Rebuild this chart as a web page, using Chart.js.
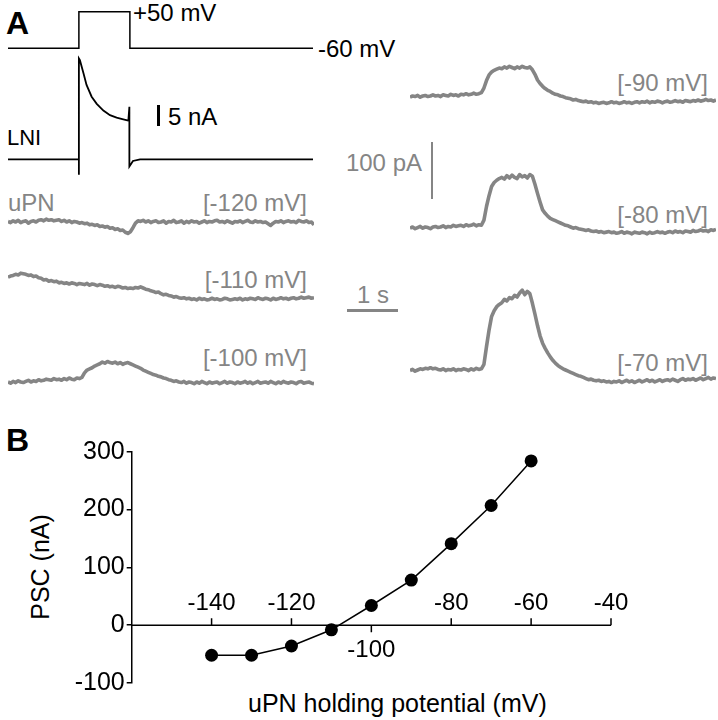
<!DOCTYPE html>
<html>
<head>
<meta charset="utf-8">
<script src="https://cdn.jsdelivr.net/npm/chart.js@4.4.1/dist/chart.umd.min.js"></script>
<style>
  html, body { margin: 0; padding: 0; background: #fff; }
  #fig { position: relative; width: 718px; height: 720px; overflow: hidden; font-family: Arial, "Liberation Sans", Helvetica, sans-serif; }
  #fig canvas { position: absolute; }
  .lbl { position: absolute; font-size: 24px; line-height: 24px; white-space: nowrap; color: #000; }
  .gray { color: #858585; }
  .panel { font-weight: bold; font-size: 32px; line-height: 32px; }
  .bar { position: absolute; }
</style>
</head>
<body>
<div id="fig">
  <div class="lbl panel" style="left:6px;top:7px">A</div>
  <div class="lbl" style="left:133px;top:1px">+50 mV</div>
  <div class="lbl" style="left:318px;top:37px">-60 mV</div>
  <div class="lbl" style="left:168px;top:105px">5 nA</div>
  <div class="lbl" style="left:7px;top:127px;font-size:22px;line-height:22px">LNI</div>
  <div class="lbl gray" style="left:8px;top:191px">uPN</div>
  <div class="lbl gray" style="right:411px;top:191px">[-120 mV]</div>
  <div class="lbl gray" style="right:411px;top:268px">[-110 mV]</div>
  <div class="lbl gray" style="right:411px;top:346px">[-100 mV]</div>
  <div class="lbl gray" style="right:10px;top:71px">[-90 mV]</div>
  <div class="lbl gray" style="right:10px;top:203px">[-80 mV]</div>
  <div class="lbl gray" style="right:10px;top:351px">[-70 mV]</div>
  <div class="lbl gray" style="right:296px;top:151px">100 pA</div>
  <div class="lbl gray" style="left:357px;top:283px">1 s</div>
  <div id="barNa" class="bar" style="background:#000"></div>
  <div id="barPa" class="bar" style="background:#858585"></div>
  <div id="barSec" class="bar" style="background:#858585"></div>

  <div class="lbl panel" style="left:6px;top:424px">B</div>
  <div class="lbl" style="left:40px;top:567px;font-size:25px;line-height:25px;transform:translate(-50%,-50%) rotate(-90deg)">PSC (nA)</div>
  <div class="lbl" style="left:248px;top:691px;font-size:25px;line-height:25px">uPN holding potential (mV)</div>
</div>
<script>
const GRAY = "#858585";
const FONT = 'Arial, "Liberation Sans", Helvetica, sans-serif';

// voltage command to the LNI and its current
const stimTime = [0, 1.39, 1.39, 2.39, 2.39, 5.98];
const stimMv = [-60, -60, 50, 50, -60, -60];
const lniTime = [0, 1.39, 1.39, 1.39, 1.41, 1.48, 1.54, 1.64, 1.74, 1.87, 2.0, 2.13, 2.26, 2.36, 2.38, 2.38, 2.45, 2.59, 5.98];
const lniNa = [0, 0, -3.7, 24.0, 23.6, 20.5, 17.7, 14.9, 13.2, 11.6, 10.5, 9.9, 9.5, 9.2, 12.5, -1.7, -0.4, 0, 0];

// uPN sweeps, pA relative to holding current, one sample every 0.05 s
const sampleStep = 0.05;
const upn120 = [
  1, -1, 2, 0, 3, -1, 1, 2, -2, 1,
  2, 0, 3, 4, 2, 5, 3, 4, 2, 3,
  4, 1, 3, 0, 2, -1, 1, 0, -2, -1,
  -3, -2, -5, -4, -6, -5, -8, -7, -9, -8,
  -11, -10, -13, -12, -15, -14, -18, -20, -17, -10,
  -2, 2, 1, 3, 0, 2, -1, 1, 2, -1,
  0, 2, -2, 1, 0, 3, -1, 0, 2, -2,
  1, -1, 2, 0, 1, -2, 0, 2, -1, 1,
  0, 2, 3, 0, 1, -1, 2, 0, -2, 1,
  0, 2, -1, 1, 3, 0, -1, 2, 0, 1,
  -1, 0, -3, -6, -2, 1, 0, 2, -1, 1,
  2, 0, 1, -1, 3, 1, 0, 2, -1, 0,
  -5
];
const upn110 = [
  19, 21, 22, 24, 23, 26, 25, 24, 22, 23,
  20, 21, 18, 17, 14, 15, 12, 13, 11, 12,
  9, 10, 8, 9, 7, 9, 8, 6, 8, 7,
  6, 8, 5, 7, 6, 4, 6, 5, 3, 4,
  2, 3, 1, 3, 2, 0, 1, -1, 0, -1,
  1, 0, 2, 0, -2, -3, -5, -6, -8, -7,
  -10, -12, -11, -13, -14, -16, -15, -17, -18, -17,
  -19, -18, -20, -19, -21, -18, -20, -19, -21, -20,
  -18, -20, -19, -21, -20, -18, -19, -21, -20, -19,
  -20, -18, -21, -19, -20, -18, -19, -20, -17, -19,
  -20, -18, -19, -21, -18, -20, -19, -17, -19, -18,
  -20, -18, -17, -19, -18, -16, -18, -17, -16, -18,
  -17
];
const upn100 = [
  0, -2, 1, -1, 2, 0, -1, 1, 3, 0,
  2, 1, 4, 2, 3, 5, 4, 3, 6, 4,
  5, 3, 6, 4, 7, 5, 4, 7, 6, 8,
  16, 21, 23, 25, 28, 30, 32, 35, 33, 36,
  34, 33, 35, 32, 34, 31, 33, 34, 32, 30,
  28, 26, 24, 21, 19, 17, 15, 13, 12, 10,
  9, 7, 6, 4, 3, 1, 2, 0, -1, 1,
  -2, 0, -1, -3, 0, -2, 1, -1, -3, 0,
  -2, -1, 0, -3, -1, 1, -2, 0, -1, -3,
  0, -2, -1, 1, -2, 0, -3, -1, 1, -2,
  -1, 0, -2, 1, -1, -3, 0, -2, 1, -1,
  -2, 0, -1, -3, 0, 1, -2, -1, 0, -2,
  -3
];
const upn90 = [
  -2, 0, -1, 1, -2, 0, 1, -1, 0, 2,
  0, 1, -1, 2, 1, 0, 3, 1, 2, 0,
  3, 2, 4, 2, 3, 5, 3, 4, 6, 14,
  27, 37, 42, 45, 47, 49, 48, 51, 49, 52,
  50, 48, 51, 49, 52, 50, 49, 51, 46, 38,
  28, 22, 17, 13, 10, 8, 5, 3, 2, 0,
  -1, -3, -4, -5, -7, -6, -8, -9, -10, -9,
  -11, -10, -12, -11, -13, -12, -11, -13, -12, -10,
  -12, -11, -13, -12, -10, -12, -11, -13, -11, -10,
  -12, -10, -11, -9, -12, -10, -11, -9, -10, -12,
  -10, -9, -11, -10, -8, -10, -9, -11, -8, -9,
  -10, -8, -9, -7, -9, -8, -6, -8, -7, -9,
  -7
];
const upn80 = [
  -2, 0, -3, -1, 1, -2, 0, -1, -3, 0,
  1, -1, 0, 2, -1, 1, 0, 3, 1, 2,
  3, 1, 4, 2, 3, 5, 2, 4, 3, 12,
  36, 55, 71, 78, 82, 85, 87, 84, 90, 86,
  91, 87, 85, 92, 88, 90, 86, 92, 89, 75,
  59, 44, 30, 24, 19, 15, 13, 11, 9, 7,
  5, 3, 2, 0, -2, -1, -3, -4, -5, -6,
  -5, -7, -8, -7, -9, -8, -10, -9, -8, -10,
  -9, -11, -10, -8, -11, -9, -10, -12, -9, -10,
  -11, -9, -10, -12, -9, -11, -10, -8, -10, -9,
  -11, -9, -8, -10, -7, -9, -8, -10, -7, -8,
  -9, -6, -8, -7, -5, -7, -6, -8, -5, -6,
  -4
];
const upn70 = [
  -1, 1, -2, 0, 2, 1, 3, 2, 4, 2,
  3, 1, 0, 2, -1, 1, 0, 2, -1, 1,
  0, 2, 1, -1, 2, 0, 3, 1, 2, 10,
  41, 70, 94, 104, 111, 115, 118, 124, 121, 127,
  125, 131, 128, 135, 140, 132, 138, 134, 117, 98,
  78, 60, 47, 38, 30, 23, 17, 12, 8, 5,
  2, 0, -2, -4, -6, -8, -10, -11, -13, -15,
  -17, -16, -18, -19, -18, -20, -19, -21, -20, -22,
  -20, -21, -19, -22, -20, -18, -21, -19, -22, -20,
  -18, -21, -19, -17, -20, -18, -21, -19, -17, -20,
  -18, -17, -19, -16, -18, -20, -17, -15, -18, -16,
  -17, -15, -18, -16, -14, -17, -15, -13, -16, -14,
  -15
];

// panel B: PSC amplitude against uPN holding potential
const holdingMv = [-140, -130, -120, -110, -100, -90, -80, -70, -60];
const pscValues = [-52, -52, -36, -8, 34, 78, 141, 207, 284];
const xTickValues = [-140, -120, -100, -80, -60, -40];
const xTicksBelow = [-100];

// layout (pixels)
const pAPerPx = 1.754;
const pxPerSec = 51;
const sweepWidth = 306;
const sweepHeight = 130;
const sweepAbove = 90;
const sweeps = [
  { values: upn120, left: 8, base: 222 },
  { values: upn110, left: 8, base: 288 },
  { values: upn100, left: 8, base: 382 },
  { values: upn90, left: 410, base: 96 },
  { values: upn80, left: 410, base: 227 },
  { values: upn70, left: 410, base: 370 }
];

const fig = document.getElementById("fig");

function rangeFor(height, basePx, baseValue, unitsPerPx) {
  const max = baseValue + basePx * unitsPerPx;
  return { min: max - height * unitsPerPx, max };
}

function addCanvas(left, top, width, height) {
  const canvas = document.createElement("canvas");
  canvas.width = width;
  canvas.height = height;
  canvas.style.left = left + "px";
  canvas.style.top = top + "px";
  fig.appendChild(canvas);
  return canvas;
}

function bareOptions(scales) {
  return {
    responsive: false,
    animation: false,
    events: [],
    layout: { padding: 0 },
    plugins: { legend: { display: false }, tooltip: { enabled: false } },
    scales
  };
}

function hidden(range, extra = {}) {
  return Object.assign({ type: "linear", display: false, min: range.min, max: range.max }, extra);
}

// stimulus + LNI current
const stimCanvas = addCanvas(8, 0, sweepWidth, 180);
new Chart(stimCanvas, {
  type: "line",
  data: {
    datasets: [
      { data: stimTime.map((t, i) => ({ x: t, y: stimMv[i] })), yAxisID: "yV", borderColor: "#000", borderWidth: 1.5, pointRadius: 0, tension: 0, clip: false },
      { data: lniTime.map((t, i) => ({ x: t, y: lniNa[i] })), yAxisID: "yI", borderColor: "#000", borderWidth: 1.8, pointRadius: 0, tension: 0, clip: false }
    ]
  },
  options: bareOptions({
    x: hidden({ min: 0, max: sweepWidth / pxPerSec }),
    yV: hidden(rangeFor(180, 48.3, -60, 3.005), { position: "left" }),
    yI: hidden(rangeFor(180, 159.3, 0, 0.238), { position: "left" })
  })
});

// uPN sweeps
sweeps.forEach((s) => {
  const canvas = addCanvas(s.left, s.base - sweepAbove, sweepWidth, sweepHeight);
  new Chart(canvas, {
    type: "line",
    data: {
      datasets: [{
        data: s.values.map((v, i) => ({ x: i * sampleStep, y: v })),
        borderColor: GRAY,
        borderWidth: 3.6,
        borderJoinStyle: "round",
        pointRadius: 0,
        tension: 0,
        clip: false
      }]
    },
    options: bareOptions({
      x: hidden({ min: 0, max: sweepWidth / pxPerSec }),
      y: hidden(rangeFor(sweepHeight, sweepAbove, 0, pAPerPx))
    })
  });
});

// scale bars
function placeBar(id, left, top, width, height) {
  const el = document.getElementById(id);
  el.style.left = left + "px";
  el.style.top = top + "px";
  el.style.width = width + "px";
  el.style.height = height + "px";
}
placeBar("barNa", 157, 105, 3, 5 / 0.238);
placeBar("barPa", 430.5, 142, 2.5, 100 / pAPerPx);
placeBar("barSec", 347, 309, pxPerSec, 2.5);

// panel B
const zeroAxis = {
  id: "zeroAxis",
  beforeDatasetsDraw(chart) {
    const { ctx, scales: { x, y } } = chart;
    const y0 = y.getPixelForValue(0);
    ctx.save();
    ctx.strokeStyle = "#000";
    ctx.lineWidth = 1.5;
    ctx.beginPath();
    ctx.moveTo(x.getPixelForValue(x.min), y0);
    ctx.lineTo(x.getPixelForValue(x.max), y0);
    xTickValues.forEach((v) => {
      const px = x.getPixelForValue(v);
      const dir = xTicksBelow.includes(v) ? 1 : -1;
      ctx.moveTo(px, y0);
      ctx.lineTo(px, y0 + dir * 7);
    });
    ctx.stroke();
    ctx.font = "24px " + FONT;
    ctx.fillStyle = "#000";
    ctx.textAlign = "center";
    ctx.textBaseline = "middle";
    xTickValues.forEach((v) => {
      const below = xTicksBelow.includes(v);
      ctx.fillText(String(v), x.getPixelForValue(v), y0 + (below ? 25 : -22));
    });
    ctx.restore();
  }
};

const ivCanvas = addCanvas(0, 420, 718, 300);
new Chart(ivCanvas, {
  type: "line",
  data: {
    datasets: [{
      data: holdingMv.map((v, i) => ({ x: v, y: pscValues[i] })),
      borderColor: "#000",
      borderWidth: 1.5,
      pointRadius: 6.5,
      pointBorderWidth: 0,
      pointBackgroundColor: "#000",
      tension: 0,
      clip: false
    }]
  },
  options: {
    responsive: false,
    animation: false,
    events: [],
    layout: { padding: { top: 31.7, bottom: 37, left: 0, right: 107 } },
    plugins: { legend: { display: false }, tooltip: { enabled: false } },
    scales: {
      x: { type: "linear", display: false, min: -160, max: -40 },
      y: {
        type: "linear",
        min: -100,
        max: 300,
        ticks: { stepSize: 100, color: "#000", font: { size: 25, family: FONT }, padding: 2 },
        grid: { drawOnChartArea: false, drawTicks: true, tickLength: 5, color: "#000", lineWidth: 1.5 },
        border: { display: true, color: "#000", width: 1.5 },
        afterFit: (scale) => { scale.width = 131.7; }
      }
    }
  },
  plugins: [zeroAxis]
});
</script>
</body>
</html>
